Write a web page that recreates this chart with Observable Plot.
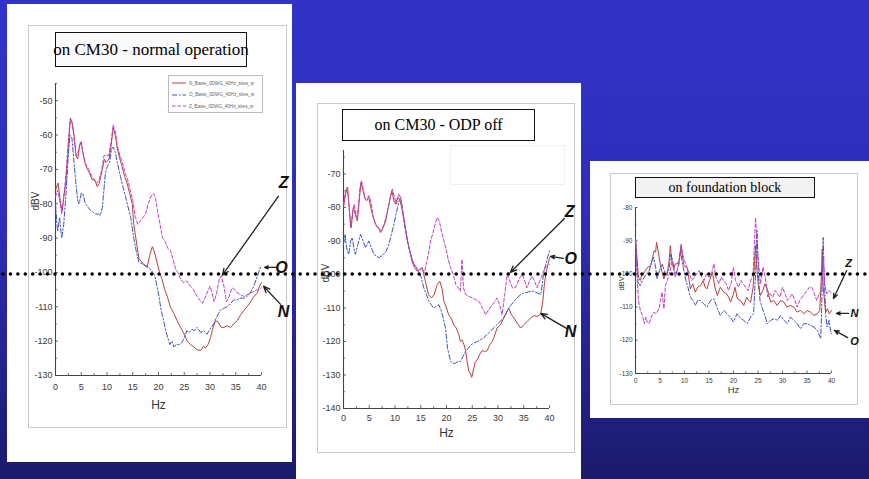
<!DOCTYPE html>
<html><head><meta charset="utf-8">
<script src="https://cdn.jsdelivr.net/npm/d3@7"></script>
<script src="https://cdn.jsdelivr.net/npm/@observablehq/plot@0.6"></script>
<style>
html,body{margin:0;padding:0;background:#1b1a6c;}
#slide{position:relative;width:869px;height:479px;overflow:hidden;background:linear-gradient(#3232c8 0%,#2e2eba 45%,#1b1a6c 100%);}
.panel{position:absolute;background:#fff;}
.frame{position:absolute;border:1.5px solid #c9c9c9;box-sizing:border-box;}
.title{position:absolute;border:1px solid #111;background:#f6f6f6;box-sizing:border-box;font-family:"Liberation Serif","Times New Roman",serif;color:#000;display:flex;align-items:center;justify-content:center;white-space:nowrap;}
.plot{position:absolute;}
#legend{position:absolute;border:1px solid #bdbdbd;background:#fff;box-sizing:border-box;font-family:"Liberation Sans",Arial,sans-serif;font-size:4.6px;color:#666;}
#legend .row{position:absolute;left:3px;height:8px;display:flex;align-items:center;gap:3px;white-space:nowrap;}
#dots{position:absolute;left:0;top:0;pointer-events:none;}
</style></head>
<body>
<div id="slide">
  <div class="panel" style="left:7px;top:4px;width:285px;height:458px"></div>
  <div class="frame" style="left:28px;top:25px;width:259px;height:403px"></div>
  <div class="plot" id="p1" style="left:28px;top:25px"></div>
  <div class="title" style="left:55px;top:32px;width:192px;height:35px;font-size:17px;background:#fafafa">on CM30 - normal operation</div>
  <div id="legend" style="left:168px;top:75px;width:95px;height:38px"></div>

  <div class="panel" style="left:296px;top:83px;width:285px;height:396px"></div>
  <div class="frame" style="left:317px;top:103px;width:258px;height:350px"></div>
  <div style="position:absolute;left:450px;top:145px;width:113px;height:38px;border:1px solid #f0f0f0"></div>
  <div class="plot" id="p2" style="left:317px;top:103px"></div>
  <div class="title" style="left:342px;top:109px;width:193px;height:32px;font-size:16px;background:#fff">on CM30 - ODP off</div>

  <div class="panel" style="left:590px;top:161px;width:279px;height:257px"></div>
  <div class="frame" style="left:610px;top:173px;width:248px;height:232px"></div>
  <div class="plot" id="p3" style="left:610px;top:173px"></div>
  <div class="title" style="left:635px;top:177px;width:180px;height:21px;font-size:14px;background:#f2f2f2">on foundation block</div>

  <svg id="dots" width="869" height="479"><line x1="3" y1="274" x2="869" y2="274" stroke="#000" stroke-width="3.6" stroke-linecap="round" stroke-dasharray="0 7.43"/></svg>
</div>
<script>
// ---------- series definitions ----------
const seriesNames = ["N_Basie_0DWG_40Hz_sites_sr", "O_Basie_0DWG_40Hz_sites_sr", "Z_Basie_0DWG_40Hz_sites_sr"];
const seriesKeys = ["N", "O", "Z"];
const seriesColors = ["#b8403a", "#3f52c4", "#c040c4"];
const seriesDash = ["none", "5,2,1.5,2", "3.5,2"];
const xTicks = [0, 5, 10, 15, 20, 25, 30, 35, 40];

// ---------- panel 1: on CM30 - normal operation ----------
const p1Ticks = [-130, -120, -110, -100, -90, -80, -70, -60, -50];
const p1N_hz = [0,0.5,1,1.3,1.7,2,2.5,2.9,3.3,3.6,4,4.3,4.7,5,5.3,5.7,6.2,6.6,7.1,7.6,8.1,8.5,9.1,9.5,9.8,10.4,10.8,11.2,11.6,12,12.5,12.9,13.4,13.9,14.4,14.9,15.2,15.6,16.2,16.8,17.3,17.8,18.3,18.8,19.2,19.7,20.2,20.7,21.2,21.7,22.3,23,23.6,24.3,25,25.6,26.2,26.9,27.5,28.2,28.7,29.1,29.6,30.1,30.6,31.1,31.6,32.2,32.7,33.3,34,34.6,35.3,35.9,36.6,37.2,37.9,38.5,39.2,39.6,40];
const p1N_v = [-76,-74,-80,-82,-77,-74,-63,-55,-57,-60,-66,-67,-63,-62,-65,-68,-70,-71,-73,-73,-75,-74,-70,-67,-68,-67,-63,-58,-60,-64,-67,-69,-72,-74,-77,-80,-86,-90,-96,-97,-98,-98.5,-95,-92.5,-94,-97,-100,-102,-105,-107,-110,-112,-114,-116,-118,-120,-121,-121.7,-122.5,-122.7,-121.5,-122,-121,-119,-116,-114,-114.5,-116,-116,-115.5,-116,-115,-114,-112.5,-111,-110,-108.5,-107,-106,-104,-103];
const p1O_hz = [0,0.4,0.8,1.2,1.6,2,2.4,2.8,3.2,3.6,3.9,4.3,4.6,5,5.3,5.8,6.3,6.8,7.3,7.8,8.3,8.7,9.1,9.4,9.7,10.1,10.5,10.9,11.2,11.6,12,12.6,13.1,13.6,14.1,14.6,15.2,15.7,16.2,16.8,17.5,18,18.4,18.9,19.3,19.7,20.1,20.5,21,21.4,21.8,22.2,22.6,23,23.5,24,24.5,25,25.5,26,26.5,27,27.5,28.2,28.8,29.4,30,30.7,31.3,32,32.6,33.3,34,34.6,35.2,35.9,36.5,37.2,37.8,38.5,39.1,39.8];
const p1O_v = [-80,-88,-84,-90,-86,-78,-68,-60,-61,-68,-73,-79,-80,-77,-77,-80,-81,-82,-82.5,-83,-83,-83.5,-81,-76,-71,-69,-68,-64,-63.5,-65,-68,-72,-75,-78,-81,-84,-90,-94,-97,-97.5,-98,-98.5,-99,-100,-101,-104,-107,-111,-114,-117,-119,-121,-120,-121.7,-121,-121,-120.5,-119,-117,-117.5,-116.5,-117,-116,-117.5,-117,-118,-116.5,-115,-113,-111,-110.5,-110,-109,-108,-108,-107.5,-107.5,-107,-106,-104,-101.5,-98.5];
const p1Z_hz = [0,0.4,0.8,1.2,1.6,2,2.4,2.8,3.2,3.6,4,4.4,4.8,5.2,5.6,6,6.5,7,7.5,8,8.5,9,9.4,9.8,10.3,10.8,11.2,11.6,12,12.5,13,13.5,14,14.5,15,15.5,16,16.5,17,17.5,18,18.5,19,19.4,19.8,20.3,20.8,21.3,21.8,22.3,22.8,23.3,23.8,24.3,24.9,25.5,26.2,26.8,27.5,28,28.5,29,29.4,30,30.4,30.8,31.3,31.8,32.2,32.7,33.2,33.7,34.3,34.8,35.3,36,36.6,37.2,37.9,38.5,39.2,40];
const p1Z_v = [-78,-76,-79,-83,-78,-72,-64,-56,-56,-61,-66,-65,-62,-64,-67,-69,-70,-72,-73,-74,-73,-70,-66,-66,-66,-62,-57,-59,-63,-66,-68,-71,-73,-76,-79,-84,-86,-85,-84,-83,-80,-78,-77,-78,-82,-86,-90,-91,-93,-93.5,-96,-99,-100,-102,-103,-102.5,-104,-105,-107,-108,-109,-107.5,-106,-104,-106,-108.5,-106,-102,-101,-104,-108.5,-107,-104.5,-105,-106,-106.5,-107,-106.5,-106,-105.5,-105,-104.5];
const p1Notes = [{x1:43.3,y1:-77.8,x2:32.4,y2:-100.8},{x1:42.9,y1:-98.5,x2:40.6,y2:-98.5},{x1:43.7,y1:-109.3,x2:40.4,y2:-104}];
const p1Labels = [{x:44.3,y:-74,t:"Z"},{x:43.9,y:-98.8,t:"O"},{x:44.3,y:-111.6,t:"N"}];

// ---------- panel 2: on CM30 - ODP off ----------
const p2Ticks = [-140, -130, -120, -110, -100, -90, -80, -70];
const p2N_hz = [0,0.4,0.8,1.2,1.5,1.9,2.3,2.7,3.1,3.4,3.8,4.1,4.5,4.9,5.3,5.6,6,6.4,6.8,7.2,7.7,8.2,8.7,9.1,9.4,9.8,10.1,10.5,10.9,11.3,11.7,12.1,12.4,12.9,13.3,13.8,14.3,14.8,15.3,15.9,16.5,17.1,17.6,18.2,18.7,19.1,19.5,20,20.4,20.9,21.4,21.9,22.4,22.7,23,23.4,23.7,24,24.3,24.6,24.9,25.3,25.6,25.9,26.4,26.9,27.4,27.9,28.4,28.9,29.4,29.8,30.5,31.1,31.6,32.1,32.6,33.1,33.7,34.4,35,35.7,36.3,37,37.6,38.3,38.7,39,39.3,39.7,40];
const p2N_v = [-80,-76,-74,-82,-86,-80,-82,-84,-77,-72.5,-75,-77,-78,-77,-80,-82,-84,-85.5,-86,-87.5,-86,-84,-80,-77,-75,-78,-79,-77,-77.5,-80,-83,-87,-90,-93,-96,-98,-99,-98.5,-98,-102,-106,-107,-106,-103,-102,-104,-108,-110,-112,-113,-115,-116,-118,-120,-119.5,-121,-122.7,-126,-128.7,-129.5,-130.7,-128,-126,-125.7,-124,-122.7,-123,-122.7,-121,-120,-118,-116,-115,-113,-111.5,-110,-112,-113,-114.5,-116,-115,-114,-113,-112.3,-112.5,-111.8,-108,-103,-99.8,-97,-95];
const p2O_hz = [0,0.3,0.6,1,1.4,1.7,2,2.3,2.8,3.3,3.8,4.3,4.6,4.9,5.4,5.9,6.4,6.9,7.3,7.8,8.3,8.8,9.3,9.8,10.2,10.5,10.8,11.1,11.4,11.7,12.2,12.7,13.2,13.7,14.2,14.6,15.1,15.6,16.1,16.6,17,17.5,18,18.5,18.9,19.2,19.5,19.8,20.2,20.5,20.8,21.2,21.7,22.2,22.7,23.2,23.7,24.2,24.7,25.3,26,26.6,27.2,27.8,28.5,29.1,29.8,30.4,31.1,31.6,32.1,32.6,33.1,33.7,34.4,35,35.6,36.2,36.9,37.6,38.3,38.6,38.9,39.3,39.6,40];
const p2O_v = [-91,-88,-92,-94,-90,-89,-92,-94,-91,-88,-90,-92,-91,-90,-92,-94,-94.5,-95,-94.5,-94,-93,-91,-88,-85,-82,-80,-78,-77,-80,-84,-88,-92,-95,-97,-98,-99,-101,-104,-106,-108,-109,-110,-109.5,-109,-110.5,-112,-114,-116,-122,-124,-126,-126.5,-126.5,-126,-126,-124.5,-123,-122,-121,-120.5,-120,-119.5,-119,-118,-117,-116,-115,-114,-113,-111.5,-110,-109,-108,-107,-106,-105.5,-105.4,-105,-105,-105.5,-106,-103,-99,-97,-95,-93];
const p2Z_hz = [0,0.4,0.7,1.1,1.4,1.8,2.1,2.5,2.9,3.2,3.5,3.9,4.2,4.6,5,5.4,5.8,6.2,6.6,7,7.4,7.9,8.4,8.8,9.2,9.5,9.9,10.3,10.7,11.1,11.5,11.9,12.3,12.7,13.2,13.7,14.2,14.7,15.2,15.7,16.2,16.6,16.9,17.3,17.8,18.2,18.6,19,19.5,20,20.4,20.8,21.3,21.8,22.3,22.7,23,23.3,23.7,24.3,25,25.6,26.3,27,27.6,28.2,28.9,29.4,29.8,30.3,30.8,31.3,31.8,32.3,32.8,33.3,33.7,34.2,34.7,35.2,35.6,36.1,36.6,37.1,37.6,38.1,38.6,39.2,39.6,40];
const p2Z_v = [-79,-75,-74,-80,-86,-81,-79,-83,-80,-74,-72,-75,-77.5,-77,-76.5,-79,-83,-85,-86,-86.5,-87,-85,-82,-79,-76,-74.5,-77,-79,-76,-77,-81,-85,-89,-92,-95,-97,-98.5,-99,-98,-99.5,-96,-93,-90,-88,-85,-83,-84,-87,-90,-93,-96,-98,-100,-103,-104,-105,-95.5,-104,-106,-106.5,-107,-107.5,-108,-110,-112,-110.5,-109,-108,-107,-109,-112,-106,-100,-102,-104,-104,-103,-101,-100,-102,-104,-102,-100.5,-102,-104,-102,-100,-98,-97.5,-97];
const p2Notes = [{x1:42.9,y1:-83.3,x2:32.4,y2:-99.4},{x1:42.7,y1:-95.2,x2:40.2,y2:-94.6},{x1:43.3,y1:-116.1,x2:38.3,y2:-111.6}];
const p2Labels = [{x:43.9,y:-81.2,t:"Z"},{x:44.1,y:-95.2,t:"O"},{x:44.1,y:-117,t:"N"}];

// ---------- panel 3: on foundation block ----------
const p3Ticks = [-130, -120, -110, -100, -90, -80];
const p3N_hz = [0,0.3,0.6,1,1.3,1.6,2,2.5,3.1,3.5,3.8,4.1,4.3,4.6,5.1,5.5,5.8,6.1,6.4,6.8,7.1,7.4,7.8,8.1,8.5,8.9,9.3,9.6,9.9,10.3,10.6,11.2,11.7,12.2,12.7,13.3,13.8,14.2,14.6,15.1,15.7,16.2,16.7,17.3,18,18.6,19,19.4,20,20.3,20.8,21.4,22.1,22.7,23.1,23.5,24,24.3,24.5,24.8,25.1,25.5,26,26.4,26.9,27.3,27.6,28.2,28.9,29.6,30.3,30.9,31.6,32.3,33,33.7,34.4,35,35.7,36.4,37.1,37.6,37.9,38.1,38.3,38.8,39.2,39.5,39.8,40];
const p3N_v = [-89,-95,-101,-102,-100,-100,-99,-98,-97.5,-95,-93,-93.5,-90.5,-93,-97.5,-100,-101.5,-100,-100,-97,-91.5,-96,-98.5,-97,-97,-96,-91.5,-95,-97.5,-98,-98.5,-104.5,-103,-105.5,-104,-103.5,-102,-104,-104.5,-102,-99.5,-104,-106.5,-104,-105.5,-106,-107,-108.5,-106,-104,-107.5,-108,-109.5,-107,-108,-108.5,-104,-96,-91.5,-99,-104,-106.5,-105,-103,-104.5,-107,-108.5,-108,-109.5,-108,-108.5,-110,-109.5,-110,-111.5,-111,-112,-111,-111.5,-112.5,-112,-111,-102,-92.5,-104,-111.5,-110.5,-112,-111.5,-111];
const p3O_hz = [0,0.3,0.6,1,1.4,1.8,2.2,2.7,3.2,3.7,4.1,4.4,4.9,5.4,5.9,6.4,6.9,7.2,7.5,7.9,8.3,8.8,9.2,9.6,10.2,10.7,11.2,11.7,12.2,12.7,13.3,13.9,14.6,15.3,16,16.6,17.3,18,18.7,19.3,20,20.7,21.5,22.1,22.8,23.5,24.1,24.5,24.8,25.1,25.4,25.8,26.3,26.9,27.6,28.3,29,29.6,30.3,31,31.6,32.3,33,33.7,34.3,35,35.7,36.4,37.1,37.8,38,38.2,38.3,38.5,38.8,39.1,39.5,39.8,40];
const p3O_v = [-90,-98,-103,-103.5,-102,-101,-100,-99.5,-97,-95,-98,-101.5,-99,-97,-99,-100.5,-98,-94,-95.5,-99,-100,-97,-93,-97,-101.5,-104,-107,-108,-109.5,-108,-108,-109,-110,-108,-107.5,-110,-112.5,-111,-112,-113,-114.5,-112,-113.5,-114,-115,-113,-112,-100,-87,-100,-108,-110,-112,-115,-114,-113.5,-114,-112.5,-114,-115,-113,-114,-115,-116.5,-115,-115,-115.5,-116,-117,-119.5,-110,-95,-89,-100,-112,-116,-114,-117,-118];
const p3Z_hz = [0,0.3,0.6,1,1.4,1.8,2.1,2.4,2.8,3.2,3.7,4.2,4.8,5.1,5.4,5.8,6.1,6.5,6.8,7.1,7.5,7.8,8.1,8.5,8.9,9.3,9.6,10,10.5,11,11.5,12,12.5,13,13.5,14,14.5,15,15.5,16,16.4,17,17.5,18,18.5,19,19.5,20,20.4,21,21.5,22,22.5,23,23.5,24,24.3,24.5,24.7,25,25.5,26,26.5,27,27.5,28,28.5,29,29.5,30,30.5,31,31.5,32,32.5,33,33.5,34,34.5,35,35.5,36,36.5,37,37.5,38,38.3,38.6,39,39.5,40];
const p3Z_v = [-90,-100,-108,-111,-112.5,-115,-113,-114.5,-115,-113,-111.5,-112,-110.5,-108,-105.5,-110.5,-103.5,-102,-100.5,-99,-96,-99,-101,-99,-97,-91,-94,-96,-98,-100,-102,-101,-100,-99,-101,-102,-100,-101,-100,-97,-101,-103,-101,-102,-103,-105,-103,-98,-102,-104,-102,-103,-104,-105,-102,-100,-90,-83,-88,-95,-103,-98,-101,-107,-106,-107,-105,-106,-107,-104,-106,-108,-107,-106,-108,-110,-108,-107,-106,-105,-104,-104,-106,-108,-106,-105,-95,-103,-106,-105,-106];
const p3Notes = [{x1:43.1,y1:-99,x2:40.4,y2:-107.4},{x1:43.5,y1:-111.9,x2:41,y2:-111.9},{x1:43.3,y1:-119.2,x2:40.6,y2:-117}];
const p3Labels = [{x:43.5,y:-96.9,t:"Z"},{x:44.7,y:-111.9,t:"N"},{x:44.7,y:-120.4,t:"O"}];

// ---------- helpers ----------
const rows = (hz, v) => hz.map((h, i) => ({hz: h, v: v[i]}));
const tickFont = "'Liberation Sans Narrow','Liberation Sans',Arial,sans-serif";

function panelPlot(o) {
  const [y0, y1] = o.yDomain;
  const xMinor = d3.range(0, 40.01, 2.5);
  const yMinor = d3.range(o.yTicks[0], y1 + 0.01, 5);
  const tl = o.tickLen / o.pxPerDb;       // inward tick length in dB
  const tlx = o.tickLen / o.pxPerHz;      // inward tick length in Hz
  const lines = o.series.map((s, i) => Plot.line(rows(s.hz, s.v), {
    x: "hz", y: "v", stroke: seriesColors[i], strokeWidth: 1,
    strokeDasharray: seriesDash[i] === "none" ? null : seriesDash[i], curve: "linear"
  }));
  return Plot.plot({
    width: o.width, height: o.height,
    marginLeft: o.m[0], marginRight: o.m[1], marginTop: o.m[2], marginBottom: o.m[3],
    x: {domain: [0, 40]},
    y: {domain: o.yDomain},
    style: {background: "none", overflow: "visible", maxWidth: "none", fontFamily: tickFont, color: "#333"},
    marks: [
      Plot.axisX({ticks: xTicks, tickSize: 0, tickPadding: o.xPad, fontSize: o.fs, label: null, tickFormat: d => String(d), fill: "#3a3a3a"}),
      Plot.axisY({ticks: o.yTicks, tickSize: 0, tickPadding: 3, fontSize: o.fs, label: null, tickFormat: d => String(d), fill: "#3a3a3a"}),
      Plot.ruleX(xMinor, {x: d => d, y1: y0, y2: d => y0 + (d % 5 === 0 ? tl : tl * 0.6), stroke: "#444", strokeWidth: 0.8}),
      Plot.ruleY(yMinor, {y: d => d, x1: 0, x2: d => (d % 10 === 0 ? tlx : tlx * 0.6), stroke: "#444", strokeWidth: 0.8}),
      Plot.ruleX([0], {stroke: "#444", strokeWidth: 1.1}),
      Plot.ruleY([y0], {stroke: "#444", strokeWidth: 1.1}),
      ...lines,
      Plot.arrow(o.notes, {x1: "x1", y1: "y1", x2: "x2", y2: "y2", stroke: "#222", strokeWidth: 1.3, headLength: o.head, headAngle: 45}),
      Plot.text(o.labels, {x: "x", y: "y", text: "t", fontSize: o.lfs, fontWeight: "bold", fontStyle: "italic", fontFamily: tickFont, fill: "#111"}),
      Plot.text(["dBV"], {frameAnchor: "left", text: d => d, rotate: -90, dx: o.dbv[0], dy: o.dbv[1], fontSize: o.afs, fill: "#333"}),
      Plot.text(["Hz"], {frameAnchor: "bottom", text: d => d, dy: o.hzdy, fontSize: o.afs + 2, fill: "#333"})
    ]
  });
}

document.getElementById("p1").append(panelPlot({
  width: 259, height: 403, m: [27, 26, 58, 53], yDomain: [-130, -45], yTicks: p1Ticks,
  pxPerDb: 3.43, pxPerHz: 5.15, tickLen: 3, xPad: 8, fs: 9, afs: 10, lfs: 16, head: 8, hzdy: 33, dbv: [-20, -19],
  series: [{hz: p1N_hz, v: p1N_v}, {hz: p1O_hz, v: p1O_v}, {hz: p1Z_hz, v: p1Z_v}],
  notes: p1Notes, labels: p1Labels
}));
document.getElementById("p2").append(panelPlot({
  width: 258, height: 350, m: [26, 26, 47, 45], yDomain: [-140, -63], yTicks: p2Ticks,
  pxPerDb: 3.35, pxPerHz: 5.15, tickLen: 3, xPad: 6, fs: 9, afs: 10, lfs: 16, head: 8, hzdy: 28, dbv: [-18, 3],
  series: [{hz: p2N_hz, v: p2N_v}, {hz: p2O_hz, v: p2O_v}, {hz: p2Z_hz, v: p2Z_v}],
  notes: p2Notes, labels: p2Labels
}));
document.getElementById("p3").append(panelPlot({
  width: 248, height: 232, m: [25, 27, 34, 32], yDomain: [-130, -80], yTicks: p3Ticks,
  pxPerDb: 3.32, pxPerHz: 4.9, tickLen: 2.5, xPad: 5, fs: 6.5, afs: 7.5, lfs: 11, head: 6, hzdy: 19, dbv: [-14, 0],
  series: [{hz: p3N_hz, v: p3N_v}, {hz: p3O_hz, v: p3O_v}, {hz: p3Z_hz, v: p3Z_v}],
  notes: p3Notes, labels: p3Labels
}));

// legend (panel 1)
const legend = document.getElementById("legend");
seriesNames.forEach((name, i) => {
  const row = document.createElement("div");
  row.className = "row";
  row.style.top = (3 + i * 11.5) + "px";
  row.innerHTML = `<svg width="14" height="4"><line x1="0" y1="2" x2="14" y2="2" stroke="${seriesColors[i]}" stroke-width="1" ${seriesDash[i] === "none" ? "" : `stroke-dasharray="${seriesDash[i]}"`}/></svg><span>${name}</span>`;
  legend.append(row);
});
</script>
</body></html>
